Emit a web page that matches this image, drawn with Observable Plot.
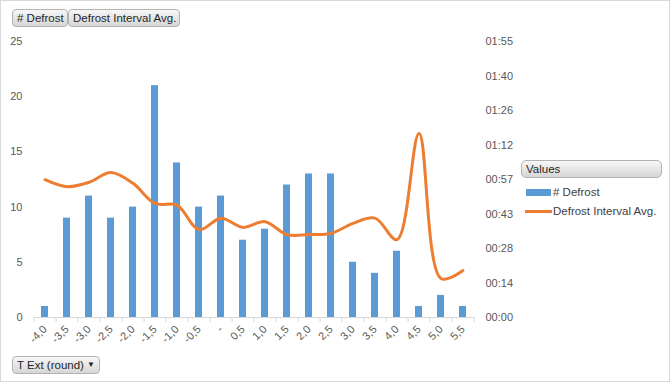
<!DOCTYPE html>
<html>
<head>
<meta charset="utf-8">
<script src="https://cdn.jsdelivr.net/npm/d3@7"></script>
<script src="https://cdn.jsdelivr.net/npm/@observablehq/plot@0.6"></script>
<style>
  html, body { margin: 0; padding: 0; background: #fff; }
  #wrap { position: relative; width: 670px; height: 382px; box-sizing: border-box; border: 1px solid #d9d9d9; font-family: "Liberation Sans", Arial, sans-serif; overflow: hidden; }
  #chart { position: absolute; left: -1px; top: -1px; }
  .btn { position: absolute; box-sizing: border-box; height: 18px; border: 1px solid #b3b3b3; border-radius: 4px;
         background: linear-gradient(#f7f7f7, #d6d6d6); font-size: 11.5px; color: #262626; line-height: 16px; padding: 0 4px; white-space: nowrap; }
  .legend-item { position: absolute; font-size: 11.5px; color: #404040; white-space: nowrap; }
</style>
</head>
<body>
<div id="wrap">
  <div id="chart"></div>
  <div class="btn" style="left:11px;top:8px;width:56px;"># Defrost</div>
  <div class="btn" style="left:67px;top:8px;width:112px;">Defrost Interval Avg.</div>
  <div class="btn" style="left:11px;top:355px;width:88px;">T Ext (round)<span style="position:absolute;left:74px;top:0;font-size:8px;">&#9660;</span></div>
  <div class="btn" style="left:520px;top:159px;width:141px;height:18px;border-radius:5px;">Values</div>
  <div class="legend-item" style="left:525px;top:185px;"><span style="display:inline-block;width:25px;height:7px;background:#5B9BD5;vertical-align:middle;margin-right:2px;"></span># Defrost</div>
  <div class="legend-item" style="left:524px;top:204px;"><span style="display:inline-block;width:27px;height:3px;background:#ED7D31;vertical-align:middle;margin-right:1px;"></span>Defrost Interval Avg.</div>
</div>
<script>
// Categories (T Ext rounded)
const categories = ["-4,0","-3,5","-3,0","-2,5","-2,0","-1,5","-1,0","-0,5","-","0,5","1,0","1,5","2,0","2,5","3,0","3,5","4,0","4,5","5,0","5,5"];
// # Defrost (left axis)
const defrostCounts = [1, 9, 11, 9, 10, 21, 14, 10, 11, 7, 8, 12, 13, 13, 5, 4, 6, 1, 2, 1];
// Defrost Interval Avg. in minutes (right axis, h:mm)
const intervalAvgMin = [57.5, 54.6, 56.4, 60.5, 56.0, 47.6, 46.9, 36.7, 41.4, 37.6, 40.0, 34.6, 34.6, 35.1, 39.3, 41.5, 32.5, 76.8, 16.3, 19.6];
// Axis settings
const leftTicks = [0, 5, 10, 15, 20, 25];
const leftMax = 25;
const rightMaxMin = 115.2; // 0.08 day
const rightTickCount = 8;

const rows = categories.map((c, i) => ({cat: c, count: defrostCounts[i], avg: intervalAvgMin[i]}));
const toLeft = m => m * leftMax / rightMaxMin;
const fmtTime = v => {
  const m = Math.floor(v * rightMaxMin / leftMax + 1e-6);
  const h = Math.floor(m / 60), mm = m % 60;
  return String(h).padStart(2, "0") + ":" + String(mm).padStart(2, "0");
};
const rightTicks = d3.range(rightTickCount + 1).map(i => i * leftMax / rightTickCount);

const W = 520, H = 382, mL = 34, mR = 46, mT = 41, mB = 65;
const step = (W - mL - mR) / categories.length;

const chart = Plot.plot({
  width: W, height: H,
  marginLeft: mL, marginRight: mR, marginTop: mT, marginBottom: mB,
  style: {fontFamily: "Liberation Sans, Arial, sans-serif", fontSize: "11px", color: "#595959", background: "transparent"},
  x: {type: "band", domain: categories, paddingInner: 0.68, paddingOuter: 0.34, align: 0.5},
  y: {domain: [0, leftMax]},
  marks: [
    Plot.ruleY([0], {stroke: "#d9d9d9"}),
    Plot.ruleX(categories, {x: d => d, y1: 0, y2: 0, insetBottom: -5, dx: -step / 2, stroke: "#d9d9d9"}),
    Plot.ruleX(categories.slice(-1), {x: d => d, y1: 0, y2: 0, insetBottom: -5, dx: step / 2, stroke: "#d9d9d9"}),
    Plot.barY(rows, {x: "cat", y: "count", fill: "#5B9BD5"}),
    Plot.line(rows, {x: "cat", y: d => toLeft(d.avg), stroke: "#ED7D31", strokeWidth: 3, curve: "catmull-rom"}),
    Plot.axisY({anchor: "left", ticks: leftTicks, tickSize: 0, tickPadding: 12, label: null, fill: "#595959"}),
    Plot.axisY({anchor: "right", ticks: rightTicks, tickFormat: fmtTime, tickSize: 0, tickPadding: 11, label: null, fill: "#595959"}),
    Plot.axisX({ticks: categories, tickSize: 0, tickPadding: 10, tickRotate: -45, label: null, fill: "#595959"})
  ]
});
document.getElementById("chart").appendChild(chart);
</script>
</body>
</html>
